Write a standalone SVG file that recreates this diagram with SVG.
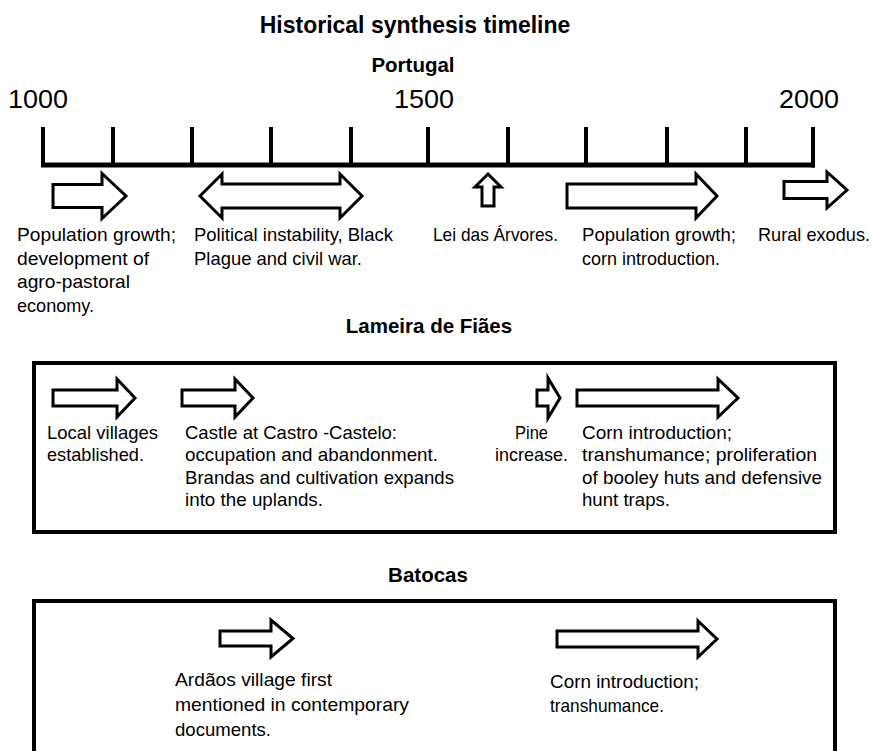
<svg xmlns="http://www.w3.org/2000/svg" width="874" height="751" viewBox="0 0 874 751">
<style>
.t{font-family:"Liberation Sans",Arial,sans-serif;font-size:19px;fill:#000}
.h{font-family:"Liberation Sans",Arial,sans-serif;font-size:20.5px;font-weight:bold;fill:#000;text-anchor:middle}
.y{font-family:"Liberation Sans",Arial,sans-serif;font-size:26px;fill:#000}
.ar{fill:#fff;stroke:#000;stroke-width:3;stroke-linejoin:miter}
.ax{stroke:#000;stroke-width:4;fill:none}
.box{fill:none;stroke:#000;stroke-width:4}
</style>
<rect width="874" height="751" fill="#fff"/>
<g id="title">
<text class="h" x="415" y="33" style="font-size:23px">Historical synthesis timeline</text>
<text class="h" x="413" y="72">Portugal</text>
</g>
<g id="connectors">
<g id="axis">
<line class="ax" x1="41" y1="165" x2="815" y2="165" style="stroke-width:5"/>
<line class="ax" x1="43" y1="127" x2="43" y2="165"/>
<line class="ax" x1="113" y1="127" x2="113" y2="165"/>
<line class="ax" x1="192" y1="127" x2="192" y2="165"/>
<line class="ax" x1="271" y1="127" x2="271" y2="165"/>
<line class="ax" x1="351" y1="127" x2="351" y2="165"/>
<line class="ax" x1="428" y1="127" x2="428" y2="165"/>
<line class="ax" x1="508" y1="127" x2="508" y2="165"/>
<line class="ax" x1="586" y1="127" x2="586" y2="165"/>
<line class="ax" x1="667" y1="127" x2="667" y2="165"/>
<line class="ax" x1="746" y1="127" x2="746" y2="165"/>
<line class="ax" x1="813" y1="127" x2="813" y2="167.5"/>
</g>
</g>
<g id="years">
<text class="y" x="8" y="108" textLength="60" lengthAdjust="spacingAndGlyphs">1000</text>
<text class="y" x="394" y="108" textLength="60" lengthAdjust="spacingAndGlyphs">1500</text>
<text class="y" x="779" y="108" textLength="60" lengthAdjust="spacingAndGlyphs">2000</text>
</g>
<g id="pt-pop1">
<polygon class="ar" points="53,184.5 102,184.5 102,173.5 126,196 102,218.5 102,207.5 53,207.5"/>
<text class="t" x="17" y="241" textLength="159" lengthAdjust="spacingAndGlyphs">Population growth;</text>
<text class="t" x="17" y="264.5" textLength="132" lengthAdjust="spacingAndGlyphs">development of</text>
<text class="t" x="17" y="288" textLength="113" lengthAdjust="spacingAndGlyphs">agro-pastoral</text>
<text class="t" x="17" y="312" textLength="77" lengthAdjust="spacingAndGlyphs">economy.</text>
</g>
<g id="pt-instability">
<polygon class="ar" points="200,196 222,174 222,184 340,184 340,174 362,196 340,218 340,208 222,208 222,218"/>
<text class="t" x="194" y="241" textLength="199" lengthAdjust="spacingAndGlyphs">Political instability, Black</text>
<text class="t" x="194" y="264.5" textLength="168" lengthAdjust="spacingAndGlyphs">Plague and civil war.</text>
</g>
<g id="pt-lei">
<polygon class="ar" points="488,174 501,187 494,187 494,206 482,206 482,187 475,187"/>
<text class="t" x="433" y="241" textLength="125" lengthAdjust="spacingAndGlyphs">Lei das Árvores.</text>
</g>
<g id="pt-pop2">
<polygon class="ar" points="567,184 696,184 696,174 717,196 696,218 696,208 567,208"/>
<text class="t" x="582" y="241" textLength="154" lengthAdjust="spacingAndGlyphs">Population growth;</text>
<text class="t" x="582" y="264.5" textLength="138" lengthAdjust="spacingAndGlyphs">corn introduction.</text>
</g>
<g id="pt-exodus">
<polygon class="ar" points="784,181.5 827,181.5 827,172 847,190 827,208 827,198.5 784,198.5"/>
<text class="t" x="758" y="241" textLength="112" lengthAdjust="spacingAndGlyphs">Rural exodus.</text>
</g>
<g id="lameira">
<text class="h" x="429" y="333">Lameira de Fiães</text>
<rect class="box" x="34" y="363" width="801" height="169"/>
</g>
<g id="lf-villages">
<polygon class="ar" points="53,390 117,390 117,379 135,398 117,417 117,406 53,406"/>
<text class="t" x="47" y="439" textLength="111" lengthAdjust="spacingAndGlyphs">Local villages</text>
<text class="t" x="47" y="461" textLength="97" lengthAdjust="spacingAndGlyphs">established.</text>
</g>
<g id="lf-castle">
<polygon class="ar" points="182,390 235,390 235,379 253,398 235,417 235,406 182,406"/>
<text class="t" x="185" y="439" textLength="212" lengthAdjust="spacingAndGlyphs">Castle at Castro -Castelo:</text>
<text class="t" x="185" y="461" textLength="253" lengthAdjust="spacingAndGlyphs">occupation and abandonment.</text>
<text class="t" x="185" y="483.5" textLength="269" lengthAdjust="spacingAndGlyphs">Brandas and cultivation expands</text>
<text class="t" x="185" y="506" textLength="138" lengthAdjust="spacingAndGlyphs">into the uplands.</text>
</g>
<g id="lf-pine">
<polygon class="ar" points="537,390 548,390 548,378 560,398 548,418 548,406 537,406"/>
<text class="t" x="515" y="439" textLength="33" lengthAdjust="spacingAndGlyphs">Pine</text>
<text class="t" x="495" y="461" textLength="73" lengthAdjust="spacingAndGlyphs">increase.</text>
</g>
<g id="lf-corn">
<polygon class="ar" points="577,390 718,390 718,379 738,398 718,417 718,406 577,406"/>
<text class="t" x="582" y="439" textLength="150" lengthAdjust="spacingAndGlyphs">Corn introduction;</text>
<text class="t" x="582" y="461" textLength="235" lengthAdjust="spacingAndGlyphs">transhumance; proliferation</text>
<text class="t" x="582" y="483.5" textLength="240" lengthAdjust="spacingAndGlyphs">of booley huts and defensive</text>
<text class="t" x="582" y="506" textLength="88" lengthAdjust="spacingAndGlyphs">hunt traps.</text>
</g>
<g id="batocas">
<text class="h" x="428" y="582">Batocas</text>
<rect class="box" x="34" y="601" width="801" height="165"/>
</g>
<g id="bt-ardaos">
<polygon class="ar" points="220,631 271,631 271,620 293,638.5 271,657 271,646 220,646"/>
<text class="t" x="175" y="686" textLength="157" lengthAdjust="spacingAndGlyphs">Ardãos village first</text>
<text class="t" x="175" y="711" textLength="234" lengthAdjust="spacingAndGlyphs">mentioned in contemporary</text>
<text class="t" x="175" y="736" textLength="96" lengthAdjust="spacingAndGlyphs">documents.</text>
</g>
<g id="bt-corn">
<polygon class="ar" points="557,631 698,631 698,621 717,639 698,657 698,647 557,647"/>
<text class="t" x="550" y="688" textLength="149" lengthAdjust="spacingAndGlyphs">Corn introduction;</text>
<text class="t" x="550" y="712" textLength="114" lengthAdjust="spacingAndGlyphs">transhumance.</text>
</g>
</svg>
